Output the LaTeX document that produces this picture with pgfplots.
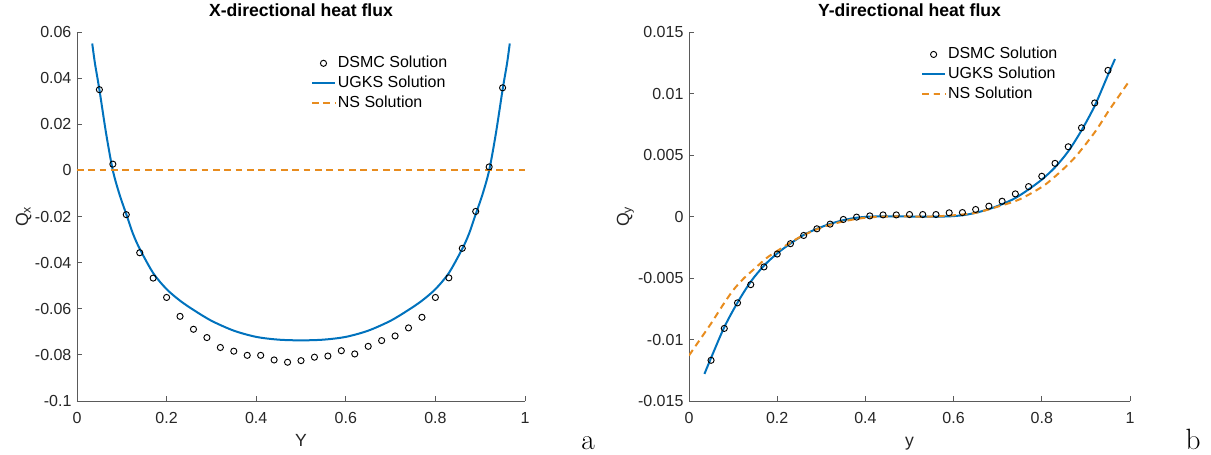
\documentclass[border=0pt]{standalone}
\usepackage{pgfplots}
\pgfplotsset{compat=1.18}
\usepackage{fontspec}
\newfontfamily\arial{Liberation Sans}

\definecolor{ugks}{HTML}{0072BD}
\definecolor{ns}{RGB}{232,140,30}
\definecolor{axgray}{RGB}{90,90,90}

\pgfplotsset{
  heatflux/.style={
    scale only axis, height=276.75pt,
    axis x line*=bottom, axis y line*=left,
    xmin=0, xmax=1,
    xtick={0,0.2,0.4,0.6,0.8,1},
    xticklabels={0,0.2,0.4,0.6,0.8,1},
    scaled x ticks=false, scaled y ticks=false,
    tick align=inside, major tick length=3.5pt,
    axis line style={draw=axgray, line width=0.6pt},
    tick style={draw=axgray, line width=0.6pt},
    ticklabel style={font=\arial\fontsize{12}{14}\selectfont, text=black!85},
    xticklabel style={anchor=base, yshift=-16.5pt},
    yticklabel style={anchor=east, inner sep=0pt, xshift=-4pt},
    title style={font=\arial\bfseries\fontsize{13.2}{15}\selectfont,
      at={(axis description cs:0.5,1)}, anchor=base, yshift=5.5pt},
    label style={font=\arial\fontsize{13.2}{15}\selectfont, text=black!85},
    xlabel style={at={(axis description cs:0.5,0)}, anchor=base, yshift=-33.75pt},
    legend style={draw=none, fill=none, anchor=north west, inner sep=0pt,
      font=\arial\fontsize{12}{14}\selectfont, row sep=0pt,
      nodes={inner sep=1.5pt, text height=9pt, text depth=3pt}},
    legend cell align=left,
  },
  dsmc/.style={only marks, mark=o, mark size=2.3pt, black, mark options={line width=0.7pt}},
  ugksline/.style={ugks, line width=1.5pt, no marks},
  nsline/.style={ns, line width=1.5pt, dash pattern=on 5pt off 3.5pt, no marks},
}

\begin{document}
\begin{tikzpicture}
\path[use as bounding box] (0,0) rectangle (908.25pt,340.5pt);

% left panel
\begin{axis}[heatflux, at={(57.75pt,39.75pt)}, anchor=south west, width=336pt,
  ymin=-0.1, ymax=0.06,
  ytick={-0.1,-0.08,-0.06,-0.04,-0.02,0,0.02,0.04,0.06},
  yticklabels={-0.1,-0.08,-0.06,-0.04,-0.02,0,0.02,0.04,0.06},
  title={X-directional heat flux}, xlabel={Y}, ylabel={Q\textsubscript{x}},
  ylabel style={at={(axis description cs:-0.109,0.5)}, anchor=base},
  legend style={at={(axis description cs:0.522,0.943)}},
]
\addplot[dsmc] coordinates {
 (0.05,0.0350) (0.08,0.0027) (0.11,-0.0192) (0.14,-0.0357) (0.17,-0.0467)
 (0.20,-0.0551) (0.23,-0.0633) (0.26,-0.0689) (0.29,-0.0725) (0.32,-0.0768)
 (0.35,-0.0784) (0.38,-0.0802) (0.41,-0.0802) (0.44,-0.0822) (0.47,-0.0832)
 (0.50,-0.0825) (0.53,-0.0810) (0.56,-0.0805) (0.59,-0.0782) (0.62,-0.0796)
 (0.65,-0.0763) (0.68,-0.0738) (0.71,-0.0718) (0.74,-0.0683) (0.77,-0.0637)
 (0.80,-0.0551) (0.83,-0.0466) (0.86,-0.0338) (0.89,-0.0178) (0.92,0.0015)
 (0.95,0.0358)
};
\addlegendentry{DSMC Solution}
\addplot[ugksline, smooth] coordinates {
 (0.034,0.0550) (0.04,0.0465) (0.05,0.0350) (0.065,0.0160) (0.08,0.0000)
 (0.095,-0.0105) (0.11,-0.0190) (0.125,-0.0275) (0.14,-0.0340) (0.17,-0.0445)
 (0.20,-0.0515) (0.23,-0.0565) (0.26,-0.0605) (0.30,-0.0652) (0.35,-0.0695)
 (0.40,-0.0722) (0.45,-0.0734) (0.50,-0.0737) (0.55,-0.0734) (0.60,-0.0722)
 (0.65,-0.0695) (0.70,-0.0652) (0.74,-0.0605) (0.77,-0.0565) (0.80,-0.0515)
 (0.83,-0.0445) (0.86,-0.0340) (0.875,-0.0275) (0.89,-0.0190) (0.905,-0.0105)
 (0.92,0.0000) (0.935,0.0160) (0.95,0.0350) (0.96,0.0465) (0.966,0.0550)
};
\addlegendentry{UGKS Solution}
\addplot[nsline] coordinates {(0,0) (1,0)};
\addlegendentry{NS Solution}
\end{axis}

% right panel
\begin{axis}[heatflux, at={(516.75pt,39.75pt)}, anchor=south west, width=330.75pt,
  ymin=-0.015, ymax=0.015,
  ytick={-0.015,-0.01,-0.005,0,0.005,0.01,0.015},
  yticklabels={-0.015,-0.01,-0.005,0,0.005,0.01,0.015},
  title={Y-directional heat flux}, xlabel={y}, ylabel={Q\textsubscript{y}},
  ylabel style={at={(axis description cs:-0.136,0.5)}, anchor=base},
  legend style={at={(axis description cs:0.526,0.967)}},
]
\addplot[dsmc] coordinates {
 (0.05,-0.01169) (0.08,-0.00910) (0.11,-0.00702) (0.14,-0.00554) (0.17,-0.00410)
 (0.20,-0.00305) (0.23,-0.00221) (0.26,-0.00154) (0.29,-0.00100) (0.32,-0.00062)
 (0.35,-0.00024) (0.38,-0.00005) (0.41,0.00005) (0.44,0.00013) (0.47,0.00013)
 (0.50,0.00016) (0.53,0.00016) (0.56,0.00016) (0.59,0.00030) (0.62,0.00032)
 (0.65,0.00057) (0.68,0.00084) (0.71,0.00124) (0.74,0.00184) (0.77,0.00243)
 (0.80,0.00327) (0.83,0.00432) (0.86,0.00567) (0.89,0.00721) (0.92,0.00923)
 (0.95,0.01188)
};
\addlegendentry{DSMC Solution}
\addplot[ugksline, smooth] coordinates {
 (0.035,-0.0128) (0.05,-0.0115) (0.08,-0.0090) (0.11,-0.0070) (0.14,-0.0053)
 (0.17,-0.0040) (0.20,-0.0030) (0.23,-0.0022) (0.26,-0.0015) (0.29,-0.0010)
 (0.32,-0.0006) (0.35,-0.0003) (0.38,-0.0001) (0.42,0.0000) (0.50,0.0000)
 (0.58,0.0000) (0.62,0.0001) (0.65,0.0003) (0.68,0.0006) (0.71,0.0010)
 (0.74,0.0015) (0.77,0.0022) (0.80,0.0030) (0.83,0.0040) (0.86,0.0053)
 (0.89,0.0070) (0.92,0.0090) (0.95,0.0115) (0.966,0.0128)
};
\addlegendentry{UGKS Solution}
\addplot[nsline, smooth] coordinates {
 (0,-0.0113) (0.025,-0.0100) (0.05,-0.0087) (0.075,-0.0073) (0.10,-0.0060)
 (0.125,-0.0050) (0.15,-0.0042) (0.175,-0.0034) (0.20,-0.0028) (0.25,-0.0017)
 (0.30,-0.0009) (0.35,-0.0004) (0.40,-0.0001) (0.45,0.0000) (0.50,0.0000)
 (0.55,0.0000) (0.60,0.0001) (0.65,0.0003) (0.70,0.0008) (0.75,0.0014)
 (0.80,0.0024) (0.825,0.0031) (0.85,0.0039) (0.875,0.0048) (0.90,0.0059)
 (0.925,0.0071) (0.95,0.0085) (0.975,0.0098) (1.0,0.0111)
};
\addlegendentry{NS Solution}
\end{axis}

\node[anchor=base, font=\fontsize{22}{26}\selectfont] at (441pt,3.5pt) {a};
\node[anchor=base, font=\fontsize{22}{26}\selectfont] at (894.75pt,3.5pt) {b};
\end{tikzpicture}
\end{document}
